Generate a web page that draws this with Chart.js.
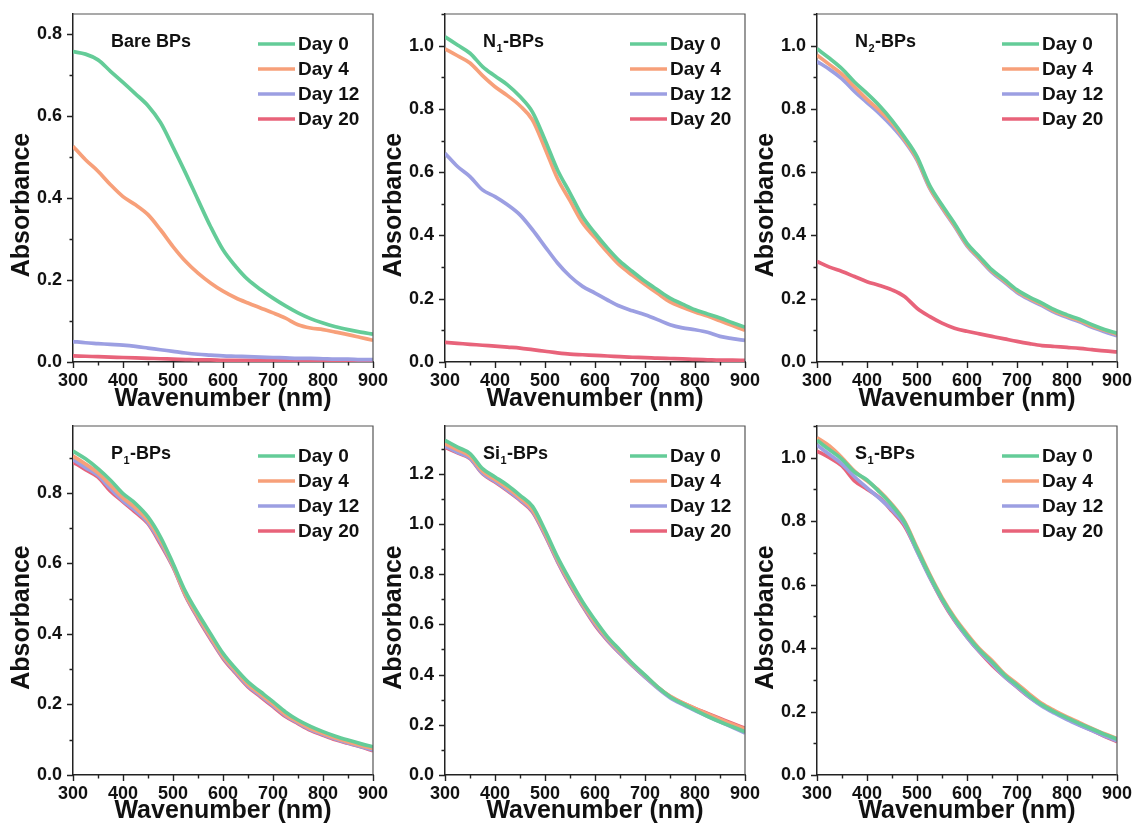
<!DOCTYPE html>
<html>
<head>
<meta charset="utf-8">
<title>UV-Vis absorbance of BPs over 20 days</title>
<script src="https://cdn.jsdelivr.net/npm/chart.js@4.4.1/dist/chart.umd.min.js"></script>
<style>
  html, body { margin: 0; padding: 0; background: #fff; }
  #fig { position: relative; width: 1136px; height: 830px; overflow: hidden; background: #fff; }
  #fig canvas { position: absolute; }
</style>
</head>
<body>
<div id="fig"></div>
<script>
// Wavelength grid (nm) shared by every spectrum
const wavelengths = [300, 325, 350, 375, 400, 425, 450, 475, 500, 525, 550, 575, 600,
                     625, 650, 675, 700, 725, 750, 775, 800, 825, 850, 875, 900];

// Storage time of each spectrum
const dayLabels = ['Day 0', 'Day 4', 'Day 12', 'Day 20'];

// Absorbance spectra: one row per day (0, 4, 12, 20)
const bareBPs = [
  [0.758, 0.752, 0.738, 0.710, 0.683, 0.655, 0.626, 0.585, 0.525, 0.462, 0.396, 0.331, 0.274,
   0.234, 0.201, 0.177, 0.156, 0.137, 0.120, 0.106, 0.095, 0.086, 0.079, 0.073, 0.068],
  [0.527, 0.494, 0.466, 0.433, 0.404, 0.384, 0.360, 0.323, 0.282, 0.246, 0.217, 0.193, 0.173,
   0.157, 0.144, 0.132, 0.120, 0.107, 0.091, 0.083, 0.079, 0.073, 0.067, 0.060, 0.053],
  [0.050, 0.047, 0.045, 0.043, 0.041, 0.038, 0.034, 0.030, 0.026, 0.022, 0.019, 0.017, 0.015,
   0.014, 0.013, 0.012, 0.011, 0.010, 0.009, 0.009, 0.008, 0.007, 0.007, 0.006, 0.006],
  [0.015, 0.014, 0.013, 0.012, 0.011, 0.010, 0.009, 0.008, 0.007, 0.006, 0.005, 0.005, 0.004,
   0.004, 0.004, 0.004, 0.003, 0.003, 0.003, 0.003, 0.003, 0.003, 0.003, 0.003, 0.003]
];

const n1BPs = [
  [1.028, 1.002, 0.976, 0.934, 0.904, 0.876, 0.839, 0.790, 0.702, 0.607, 0.534, 0.460, 0.407,
   0.360, 0.318, 0.286, 0.255, 0.228, 0.202, 0.183, 0.165, 0.152, 0.139, 0.124, 0.110],
  [0.990, 0.968, 0.945, 0.905, 0.870, 0.842, 0.810, 0.765, 0.675, 0.580, 0.510, 0.440, 0.393,
   0.347, 0.305, 0.274, 0.245, 0.217, 0.190, 0.173, 0.158, 0.145, 0.130, 0.115, 0.100],
  [0.660, 0.618, 0.586, 0.544, 0.523, 0.497, 0.465, 0.418, 0.365, 0.313, 0.271, 0.239, 0.218,
   0.196, 0.176, 0.162, 0.149, 0.134, 0.118, 0.108, 0.102, 0.094, 0.081, 0.074, 0.068],
  [0.062, 0.059, 0.056, 0.053, 0.050, 0.047, 0.044, 0.039, 0.034, 0.029, 0.025, 0.023, 0.021,
   0.019, 0.017, 0.015, 0.014, 0.012, 0.011, 0.010, 0.008, 0.007, 0.006, 0.006, 0.005]
];

const n2BPs = [
  [0.990, 0.960, 0.927, 0.885, 0.849, 0.810, 0.764, 0.710, 0.649, 0.559, 0.496, 0.438, 0.375,
   0.333, 0.291, 0.260, 0.228, 0.205, 0.186, 0.165, 0.149, 0.135, 0.118, 0.103, 0.091],
  [0.970, 0.940, 0.910, 0.870, 0.830, 0.795, 0.755, 0.703, 0.642, 0.553, 0.490, 0.432, 0.370,
   0.328, 0.287, 0.256, 0.224, 0.201, 0.182, 0.161, 0.145, 0.131, 0.114, 0.100, 0.088],
  [0.950, 0.925, 0.895, 0.855, 0.820, 0.785, 0.745, 0.698, 0.638, 0.550, 0.487, 0.429, 0.367,
   0.325, 0.283, 0.252, 0.220, 0.197, 0.178, 0.157, 0.141, 0.127, 0.110, 0.096, 0.083],
  [0.318, 0.300, 0.286, 0.270, 0.254, 0.242, 0.228, 0.207, 0.170, 0.144, 0.123, 0.107, 0.097,
   0.089, 0.081, 0.073, 0.065, 0.058, 0.052, 0.049, 0.046, 0.043, 0.039, 0.035, 0.032]
];

const p1BPs = [
  [0.919, 0.897, 0.869, 0.836, 0.798, 0.770, 0.732, 0.675, 0.600, 0.520, 0.458, 0.401, 0.345,
   0.302, 0.264, 0.236, 0.208, 0.179, 0.156, 0.138, 0.123, 0.110, 0.099, 0.089, 0.080],
  [0.905, 0.882, 0.857, 0.822, 0.786, 0.758, 0.722, 0.666, 0.595, 0.512, 0.451, 0.393, 0.338,
   0.296, 0.257, 0.229, 0.201, 0.172, 0.151, 0.132, 0.118, 0.105, 0.094, 0.084, 0.075],
  [0.895, 0.872, 0.850, 0.812, 0.778, 0.750, 0.716, 0.660, 0.592, 0.510, 0.447, 0.389, 0.334,
   0.292, 0.253, 0.225, 0.197, 0.169, 0.148, 0.129, 0.115, 0.102, 0.091, 0.081, 0.071],
  [0.888, 0.866, 0.845, 0.805, 0.775, 0.745, 0.713, 0.655, 0.590, 0.508, 0.444, 0.386, 0.331,
   0.289, 0.250, 0.222, 0.194, 0.166, 0.146, 0.127, 0.113, 0.100, 0.090, 0.080, 0.069]
];

const si1BPs = [
  [1.333, 1.306, 1.280, 1.220, 1.187, 1.154, 1.114, 1.070, 0.975, 0.868, 0.776, 0.690, 0.617,
   0.550, 0.497, 0.444, 0.398, 0.351, 0.312, 0.284, 0.259, 0.234, 0.212, 0.192, 0.172],
  [1.320, 1.295, 1.270, 1.210, 1.177, 1.143, 1.104, 1.058, 0.965, 0.860, 0.767, 0.682, 0.609,
   0.545, 0.492, 0.441, 0.396, 0.351, 0.314, 0.288, 0.265, 0.243, 0.222, 0.202, 0.182],
  [1.310, 1.285, 1.262, 1.202, 1.170, 1.135, 1.097, 1.052, 0.958, 0.853, 0.760, 0.676, 0.602,
   0.538, 0.485, 0.436, 0.390, 0.346, 0.308, 0.281, 0.257, 0.234, 0.212, 0.190, 0.167],
  [1.306, 1.283, 1.260, 1.200, 1.167, 1.132, 1.094, 1.048, 0.955, 0.850, 0.756, 0.673, 0.597,
   0.536, 0.484, 0.436, 0.391, 0.349, 0.312, 0.287, 0.265, 0.245, 0.225, 0.205, 0.186]
];

const s1BPs = [
  [1.055, 1.025, 0.995, 0.955, 0.930, 0.892, 0.850, 0.797, 0.712, 0.630, 0.556, 0.493, 0.440,
   0.394, 0.356, 0.315, 0.283, 0.250, 0.221, 0.199, 0.180, 0.162, 0.145, 0.128, 0.113],
  [1.063, 1.037, 1.000, 0.958, 0.927, 0.895, 0.853, 0.800, 0.717, 0.634, 0.560, 0.497, 0.445,
   0.398, 0.361, 0.319, 0.288, 0.255, 0.225, 0.203, 0.183, 0.165, 0.147, 0.130, 0.115],
  [1.040, 1.010, 0.980, 0.940, 0.905, 0.872, 0.835, 0.790, 0.705, 0.624, 0.552, 0.489, 0.435,
   0.389, 0.351, 0.310, 0.278, 0.245, 0.217, 0.195, 0.175, 0.157, 0.140, 0.123, 0.108],
  [1.021, 1.000, 0.974, 0.927, 0.901, 0.874, 0.832, 0.785, 0.707, 0.625, 0.550, 0.487, 0.435,
   0.388, 0.346, 0.310, 0.277, 0.245, 0.220, 0.198, 0.178, 0.158, 0.141, 0.122, 0.105]
];

// Sample names, split as [main, subscript, rest]
const sampleNames = [
  ['Bare BPs', '', ''],
  ['N', '1', '-BPs'],
  ['N', '2', '-BPs'],
  ['P', '1', '-BPs'],
  ['Si', '1', '-BPs'],
  ['S', '1', '-BPs']
];
const sampleSpectra = [bareBPs, n1BPs, n2BPs, p1BPs, si1BPs, s1BPs];

// Upper limit of each absorbance axis
const yAxisMax = [0.85, 1.1, 1.1, 0.99, 1.39, 1.1];

const FONT = '"Liberation Sans", Arial, Helvetica, sans-serif';
const LINE_COLORS = ['#64cc98', '#f7a07a', '#9c9fe2', '#e8637a'];

// Frame, outward ticks, y title, sample name and legend for each panel
const panelDecor = {
  id: 'panelDecor',
  afterDraw(chart, args, opts) {
    const { ctx, chartArea: a, scales } = chart;
    const x = scales.x, y = scales.y;
    ctx.save();

    // top and right frame lines
    ctx.strokeStyle = '#555';
    ctx.lineWidth = 1.2;
    ctx.beginPath();
    ctx.moveTo(a.left, a.top);
    ctx.lineTo(a.right, a.top);
    ctx.lineTo(a.right, a.bottom);
    ctx.stroke();

    // major and minor ticks, pointing outward
    ctx.strokeStyle = '#222';
    ctx.lineWidth = 1.4;
    ctx.beginPath();
    for (let v = x.min; v <= x.max + 1e-6; v += 50) {
      const px = Math.round(x.getPixelForValue(v)) + 0.5;
      const len = (v % 100 === 0) ? 6 : 3.5;
      ctx.moveTo(px, a.bottom);
      ctx.lineTo(px, a.bottom + len);
    }
    for (let k = 0; k * 0.1 <= y.max + 1e-6; k++) {
      const py = Math.round(y.getPixelForValue(k * 0.1)) + 0.5;
      const len = (k % 2 === 0) ? 6 : 3.5;
      ctx.moveTo(a.left, py);
      ctx.lineTo(a.left - len, py);
    }
    ctx.stroke();

    // y axis title
    ctx.fillStyle = '#111';
    ctx.font = 'bold 25px ' + FONT;
    ctx.textAlign = 'center';
    ctx.textBaseline = 'middle';
    ctx.translate(22, (a.top + a.bottom) / 2 + 17);
    ctx.rotate(-Math.PI / 2);
    ctx.fillText('Absorbance', 0, 0);
    ctx.setTransform(1, 0, 0, 1, 0, 0);

    // sample name with subscript
    const [main, sub, rest] = opts.name;
    let tx = a.left + 38;
    const ty = a.top + 28;
    ctx.textAlign = 'left';
    ctx.textBaseline = 'middle';
    ctx.font = 'bold 18px ' + FONT;
    ctx.fillText(main, tx, ty);
    tx += ctx.measureText(main).width;
    if (sub) {
      ctx.font = 'bold 11px ' + FONT;
      ctx.fillText(sub, tx + 0.5, ty + 7);
      tx += ctx.measureText(sub).width + 1;
      ctx.font = 'bold 18px ' + FONT;
      ctx.fillText(rest, tx, ty);
    }

    // legend
    ctx.font = 'bold 19px ' + FONT;
    chart.data.datasets.forEach((ds, i) => {
      const ly = a.top + 30 + i * 25;
      const lx = a.right - 115;
      ctx.strokeStyle = ds.borderColor;
      ctx.lineWidth = 3.5;
      ctx.beginPath();
      ctx.moveTo(lx, ly);
      ctx.lineTo(lx + 37, ly);
      ctx.stroke();
      ctx.fillStyle = '#111';
      ctx.fillText(ds.label, lx + 40, ly + 1);
    });
    ctx.restore();
  }
};

const fig = document.getElementById('fig');
const CANVAS_W = 392, CANVAS_H = 414;
const colLeft = [0, 372, 744];
const rowTop = [0, 412];

sampleSpectra.forEach((spectra, p) => {
  const canvas = document.createElement('canvas');
  canvas.width = CANVAS_W;
  canvas.height = CANVAS_H;
  canvas.style.left = colLeft[p % 3] + 'px';
  canvas.style.top = rowTop[Math.floor(p / 3)] + 'px';
  canvas.style.width = CANVAS_W + 'px';
  canvas.style.height = CANVAS_H + 'px';
  fig.appendChild(canvas);

  const xAxisHeight = p < 3 ? 52 : 51;

  new Chart(canvas, {
    type: 'line',
    data: {
      datasets: spectra.map((vals, i) => ({
        label: dayLabels[i],
        data: wavelengths.map((w, j) => ({ x: w, y: vals[j] })),
        borderColor: LINE_COLORS[i],
        backgroundColor: LINE_COLORS[i],
        borderWidth: 3.7,
        pointRadius: 0,
        cubicInterpolationMode: 'monotone',
        fill: false
      }))
    },
    options: {
      responsive: false,
      animation: false,
      devicePixelRatio: 1,
      layout: { padding: { top: 14, right: CANVAS_W - 73 - 300, bottom: 0, left: 0 } },
      plugins: {
        legend: { display: false },
        tooltip: { enabled: false },
        panelDecor: { name: sampleNames[p] }
      },
      scales: {
        x: {
          type: 'linear',
          min: 300,
          max: 900,
          grid: { display: false, drawTicks: false },
          border: { display: true, color: '#222', width: 1.5 },
          ticks: {
            stepSize: 100,
            padding: 8,
            color: '#111',
            maxRotation: 0,
            autoSkip: false,
            font: { family: FONT, size: 18, weight: 'bold' }
          },
          title: {
            display: true,
            text: 'Wavenumber (nm)',
            color: '#111',
            padding: 0,
            font: { family: FONT, size: 25, weight: 'bold' }
          },
          afterFit(scale) {
            // fixed axis band; labels may overhang into the canvas margins
            scale.height = xAxisHeight;
            scale.paddingLeft = 0;
            scale.paddingRight = 0;
          }
        },
        y: {
          min: 0,
          max: yAxisMax[p],
          grid: { display: false, drawTicks: false },
          border: { display: true, color: '#222', width: 1.5 },
          ticks: {
            stepSize: 0.2,
            includeBounds: false,
            padding: 11,
            color: '#111',
            font: { family: FONT, size: 18, weight: 'bold' },
            callback: (v) => v.toFixed(1)
          },
          afterFit(scale) {
            scale.width = 73;
            scale.paddingTop = 0;
            scale.paddingBottom = 0;
          }
        }
      }
    },
    plugins: [panelDecor]
  });
});
</script>
</body>
</html>
